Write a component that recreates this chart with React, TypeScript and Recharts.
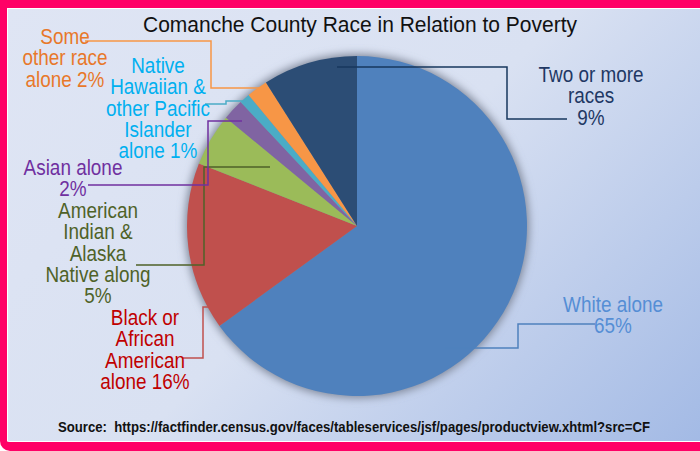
import { PieChart, Pie, Cell } from 'recharts';

const categories = [
  'White alone',
  'Black or African American alone',
  'American Indian & Alaska Native along',
  'Asian alone',
  'Native Hawaiian & other Pacific Islander alone',
  'Some other race alone',
  'Two or more races',
];
const percents = [65, 16, 5, 2, 1, 2, 9];
const labelLines = [
  ['White alone', '65%'],
  ['Black or', 'African', 'American', 'alone 16%'],
  ['American', 'Indian &', 'Alaska', 'Native along', '5%'],
  ['Asian alone', '2%'],
  ['Native', 'Hawaiian &', 'other Pacific', 'Islander', 'alone 1%'],
  ['Some', 'other race', 'alone 2%'],
  ['Two or more', 'races', '9%'],
];

const sliceColors = ['#4F81BD', '#C0504D', '#9BBB59', '#8064A2', '#4BACC6', '#F79646', '#2C4D75'];
const textColors = ['#558ED5', '#C00000', '#4F6228', '#7030A0', '#00B0F0', '#E8782A', '#1F3864'];
const lineColors = ['#4F81BD', '#C0504D', '#4F6228', '#7030A0', '#4BACC6', '#F79646', '#17375E'];

// leader line routes + text placement, as offsets from the pie centre
const layout = [
  { pts: [[88, 122], [161, 122], [161, 98], [238, 98]], tx: 256, ty: 86 },
  { pts: [[-145, 81], [-154, 81], [-154, 132], [-174, 132]], tx: -212, ty: 99 },
  { pts: [[-87, -59], [-153, -59], [-153, 39], [-221, 39]], tx: -259, ty: -8 },
  { pts: [[-115, -105], [-149, -105], [-149, -41], [-269, -41]], tx: -284, ty: -51 },
  { pts: [[-109, -125], [-131, -125], [-131, -122], [-152, -122]], tx: -199, ty: -153 },
  { pts: [[-98, -138], [-146, -138], [-146, -185], [-272, -185]], tx: -292, ty: -182 },
  { pts: [[-20, -159], [150, -159], [150, -107], [210, -107]], tx: 234, ty: -144 },
];

const data = categories.map((name, i) => ({ name, value: percents[i] }));
const FONT = '"Liberation Sans", Arial, sans-serif';
const LINE_H = 21.3;
const NARROW = 0.86;

const renderLabel = (props: any) => {
  const { cx, cy, index } = props;
  const l = layout[index];
  return (
    <g key={`lbl-${index}`}>
      <polyline
        points={l.pts.map(([x, y]) => `${cx + x},${cy + y}`).join(' ')}
        fill="none"
        stroke={lineColors[index]}
        strokeWidth={1.5}
      />
      {labelLines[index].map((t, j) => (
        <text
          key={j}
          transform={`translate(${cx + l.tx},${cy + l.ty + j * LINE_H}) scale(${NARROW},1)`}
          textAnchor="middle"
          fill={textColors[index]}
          fontFamily={FONT}
          fontSize={22}
        >
          {t}
        </text>
      ))}
    </g>
  );
};

export default function App() {
  return (
    <div style={{ position: 'absolute', left: 0, top: 0, width: 700, height: 451, background: '#fff' }}>
      <svg width={0} height={0} style={{ position: 'absolute' }}>
        <defs>
          <filter id="pieGlow" x="-20%" y="-20%" width="140%" height="140%">
            <feGaussianBlur stdDeviation="4" />
          </filter>
        </defs>
      </svg>
      <div
        style={{
          position: 'absolute',
          left: 0,
          top: 0,
          width: 700,
          height: 451,
          boxSizing: 'border-box',
          borderTop: '8px solid #FF0066',
          borderLeft: '7px solid #FF0066',
          borderBottom: '9px solid #FF0066',
          borderBottomLeftRadius: 10,
          background: 'linear-gradient(135deg, #DFE5F4 0%, #D9E1F2 50%, #A3BAE5 100%)',
          boxShadow: 'inset 1px 1px 0 #fff, inset 0 -1px 0 #fff',
        }}
      />
      <svg width={700} height={451} style={{ position: 'absolute', left: 0, top: 0 }}>
        <text
          x={143}
          y={32}
          textLength={434}
          lengthAdjust="spacingAndGlyphs"
          fontFamily={FONT}
          fontSize={22}
          fill="#111"
        >
          Comanche County Race in Relation to Poverty
        </text>
        <text
          x={58}
          y={432}
          textLength={592}
          lengthAdjust="spacingAndGlyphs"
          fontFamily={FONT}
          fontSize={15}
          fontWeight="bold"
          fill="#111"
          style={{ whiteSpace: 'pre' }}
        >
          {'Source:  https://factfinder.census.gov/faces/tableservices/jsf/pages/productview.xhtml?src=CF'}
        </text>
      </svg>
      <div style={{ position: 'absolute', left: 0, top: 0 }}>
        <PieChart width={700} height={451}>
          <Pie
            data={[{ name: 'shadow', value: 1 }]}
            dataKey="value"
            cx={352}
            cy={221}
            outerRadius={172}
            startAngle={90}
            endAngle={-270}
            stroke="none"
            fill="#7f8799"
            style={{ filter: 'url(#pieGlow)' }}
            isAnimationActive={false}
            legendType="none"
          />
          <Pie
            data={data}
            dataKey="value"
            nameKey="name"
            cx={352}
            cy={221}
            outerRadius={170}
            startAngle={90}
            endAngle={-270}
            stroke="none"
            label={renderLabel}
            labelLine={false}
            isAnimationActive={false}
          >
            {data.map((d, i) => (
              <Cell key={d.name} fill={sliceColors[i]} />
            ))}
          </Pie>
        </PieChart>
      </div>
    </div>
  );
}
